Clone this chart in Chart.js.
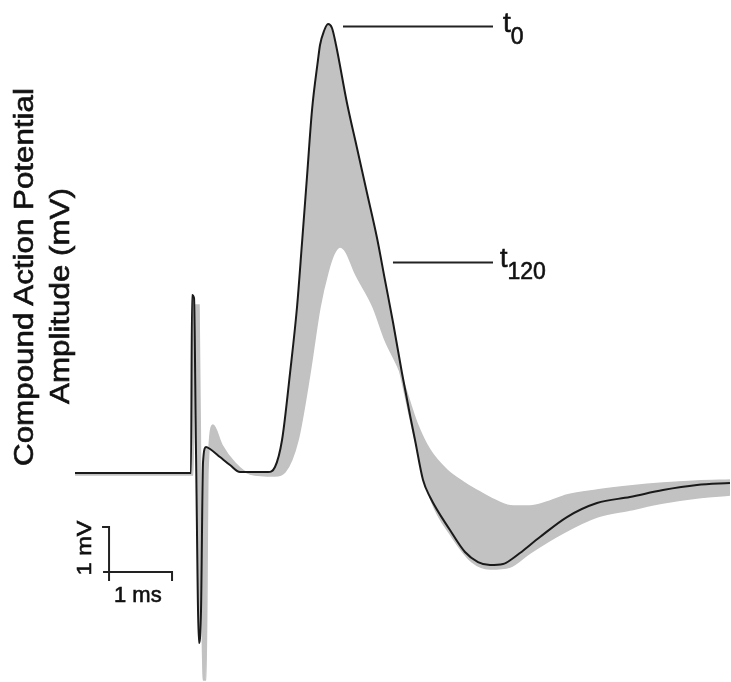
<!DOCTYPE html>
<html>
<head>
<meta charset="utf-8">
<script src="https://cdn.jsdelivr.net/npm/chart.js@4"></script>
<style>
  body { margin: 0; background: #fff; }
  #wrap { position: relative; width: 731px; height: 682px; font-family: "Liberation Sans", Arial, sans-serif; color: #111; }
  #wrap canvas { position: absolute; left: 0; top: 0; }
  .lbl { position: absolute; white-space: nowrap; line-height: 1; -webkit-text-stroke: 0.6px #111; }
  .rot { transform: translate(-50%, -50%) rotate(-90deg) scaleX(1.16); }
  .tag sub { font-size: 23px; vertical-align: -12px; line-height: 1; }
</style>
</head>
<body>
<div id="wrap">
  <canvas id="cap" width="731" height="682"></canvas>
  <div class="lbl rot" style="left:24px; top:277px; font-size:27px;">Compound Action Potential</div>
  <div class="lbl rot" style="left:60px; top:296px; font-size:27px;">Amplitude (mV)</div>
  <div class="lbl rot" style="left:83px; top:548px; font-size:21px; transform: translate(-50%, -50%) rotate(-90deg) scaleX(1.12);">1 mV</div>
  <div class="lbl" style="left:114px; top:584px; font-size:22px;">1 ms</div>
  <div class="lbl tag" style="left:503px; top:9px; font-size:28px;">t<sub>0</sub></div>
  <div class="lbl tag" style="left:500px; top:245px; font-size:27px;">t<sub>120</sub></div>
</div>
<script>
// time axis (ms, stimulus at 0) and amplitude (mV)
const t0Time = [-1.857, -0.016, 0, 0.032, 0.063, 0.111, 0.143, 0.175, 0.222, 0.286, 0.444, 0.603, 0.762,
  1.206, 1.317, 1.429, 1.556, 1.667, 1.746, 1.825, 1.905, 2.0, 2.032, 2.095, 2.159, 2.222, 2.286, 2.46,
  2.619, 2.778, 2.937, 3.063, 3.19, 3.333, 3.46, 3.54, 3.667, 3.778, 4.095, 4.333, 4.54, 4.73, 4.937, 5.079,
  5.206, 5.524, 5.952, 6.429, 6.952, 7.476, 8.016, 8.54];
const t0Amp = [0, 0, 3.956, 3.889, 0.511, -3.778, -3.044, 0.244, 0.578, 0.533, 0.356, 0.178, 0.022,
  0.022, 0.133, 0.733, 2.222, 3.689, 5.111, 6.578, 8.067, 9.178, 9.511, 9.822, 9.978, 9.889, 9.511, 8.222,
  7.222, 6.222, 5.222, 4.289, 3.356, 2.222, 1.289, 0.733, -0.156, -0.533, -1.267, -1.756, -1.978, -2.044, -2.022, -1.911,
  -1.778, -1.422, -0.978, -0.667, -0.533, -0.378, -0.267, -0.222];

const t120Time = [-1.857, 0.016, 0.048, 0.111, 0.143, 0.175, 0.222, 0.254, 0.333, 0.476, 0.683, 0.921,
  1.317, 1.476, 1.683, 1.873, 2.032, 2.159, 2.254, 2.349, 2.444, 2.587, 2.873, 3.063, 3.302, 3.571, 3.778,
  4.048, 4.333, 4.571, 4.841, 5.095, 5.365, 5.635, 5.952, 6.429, 6.952, 7.476, 8.016, 8.54];
const t120Amp = [-0.044, -0.044, 3.733, 3.733, -1.044, -4.6, -4.6, 0.067, 1.067, 0.622, 0.222, -0.022,
  -0.067, 0.022, 0.733, 2.222, 3.689, 4.467, 4.867, 5.022, 4.911, 4.444, 3.689, 2.956, 2.244, 1.111, 0.511,
  0.067, -0.222, -0.422, -0.622, -0.733, -0.733, -0.644, -0.489, -0.378, -0.289, -0.222, -0.178, -0.156];

// lower edge of the grey band after the main peak
const lowTime = [3.302, 3.54, 3.794, 4.127, 4.444, 4.73, 5.048, 5.365, 5.889, 6.429, 6.952, 7.476, 8.016, 8.54];
const lowAmp = [2.244, 0.733, -0.6, -1.422, -1.978, -2.133, -2.089, -1.778, -1.333, -0.978, -0.822, -0.667, -0.556, -0.489];

// scale bar (1 ms x 1 mV) and label leader lines, in data units
const barOrigin = { x: -1.317, y: -2.2 };
const barMs = 1, barMv = 1;
const leaders = [
  { y: 9.933, x1: 2.397, x2: 4.778 },
  { y: 4.689, x1: 3.19, x2: 4.778 }
];

const GREY = 'rgb(194,194,194)';
const toPts = (xs, ys) => xs.map((x, i) => ({ x: x, y: ys[i] }));

const overlay = {
  id: 'overlay',
  afterDatasetsDraw(chart) {
    const { ctx, scales: { x, y } } = chart;
    ctx.save();
    ctx.strokeStyle = '#222';
    ctx.lineWidth = 2;
    ctx.lineCap = 'butt';
    const ox = x.getPixelForValue(barOrigin.x), oy = y.getPixelForValue(barOrigin.y);
    const tx = x.getPixelForValue(barOrigin.x + barMs), ty = y.getPixelForValue(barOrigin.y + barMv);
    ctx.beginPath();
    ctx.moveTo(ox - 7, ty); ctx.lineTo(ox, ty); ctx.lineTo(ox, oy + 9);
    ctx.moveTo(ox - 6, oy); ctx.lineTo(tx, oy); ctx.lineTo(tx, oy + 9);
    ctx.stroke();
    leaders.forEach(l => {
      const py = Math.round(y.getPixelForValue(l.y)) + 0.5;
      ctx.beginPath();
      ctx.moveTo(x.getPixelForValue(l.x1), py);
      ctx.lineTo(x.getPixelForValue(l.x2), py);
      ctx.stroke();
    });
    ctx.restore();
  }
};

new Chart(document.getElementById('cap'), {
  type: 'line',
  data: {
    datasets: [
      { label: 't0', data: toPts(t0Time, t0Amp), borderColor: '#1a1a1a', borderWidth: 2, fill: false },
      { label: 't120', data: toPts(t120Time, t120Amp), borderColor: GREY, backgroundColor: GREY, borderWidth: 1.5, fill: 0 },
      { label: 'low', data: toPts(lowTime, lowAmp), borderColor: GREY, backgroundColor: GREY, borderWidth: 1.5, fill: 0 }
    ]
  },
  options: {
    responsive: false,
    animation: false,
    layout: { padding: 0 },
    elements: { point: { radius: 0 }, line: { cubicInterpolationMode: 'monotone' } },
    scales: {
      x: { type: 'linear', min: -3.048, max: 8.556, display: false },
      y: { type: 'linear', min: -4.644, max: 10.511, display: false }
    },
    plugins: { legend: { display: false }, tooltip: { enabled: false } }
  },
  plugins: [overlay]
});
</script>
</body>
</html>
